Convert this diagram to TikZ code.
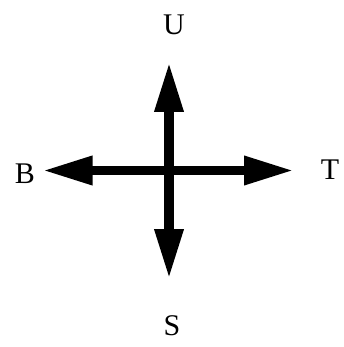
\documentclass[tikz,border=0pt]{standalone}
\usepackage{fontspec}
\setmainfont{Liberation Serif}
\usepackage{tikz}
\usetikzlibrary{arrows.meta, positioning}

\begin{document}
\begin{tikzpicture}[
    x=1pt, y=-1pt,
    lbl/.style={font=\fontsize{30pt}{30pt}\selectfont, inner sep=0pt},
    dirarrow/.style={-{Triangle[length=50pt, width=27pt]}, line width=9.5pt},
]
\useasboundingbox (0,0) rectangle (344,347);
% centre and arrow ends
\coordinate (o) at (169,170.5);
\coordinate (uend) at (169,62);
\coordinate (send) at (169,279);
\coordinate (bend) at (42.5,170.5);
\coordinate (tend) at (294,170.5);
% arrows
\draw[dirarrow] (o) -- (uend);
\draw[dirarrow] (o) -- (send);
\draw[dirarrow] (o) -- (bend);
\draw[dirarrow] (o) -- (tend);
% labels
\node[lbl] (u) at (174,25) {U};
\node[lbl] (s) at (172,326) {S};
\node[lbl] (b) at (25,174) {B};
\node[lbl] (t) at (330,170) {T};
\end{tikzpicture}
\end{document}
